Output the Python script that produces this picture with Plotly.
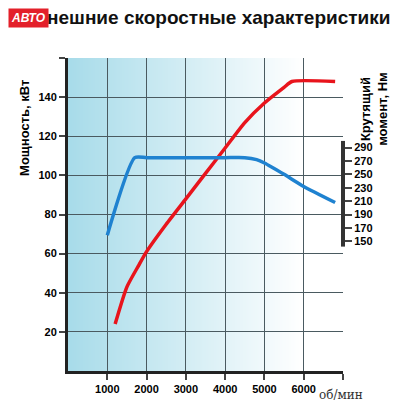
import base64
import struct
import zlib

import plotly.graph_objects as go

# engine speed, rpm
rpm_power = [1200, 1500, 1800, 2000, 2500, 3000, 3500, 4000, 4500, 5000, 5500, 5700, 6800]
power_kw = [24, 43, 54, 61, 75, 88, 101, 114, 127, 137, 145, 148, 148]

rpm_torque = [1000, 1700, 2000, 3000, 4000, 4500, 4800, 5000, 5500, 6000, 6800]
torque_nm = [159, 275, 275, 275, 275, 275, 272, 267, 250, 232, 208]

x_ticks = [1000, 2000, 3000, 4000, 5000, 6000]
y_ticks = [20, 40, 60, 80, 100, 120, 140]
t_ticks = [150, 170, 190, 210, 230, 250, 270, 290]


def gradient_png(c0, c1, w=256):
    # one-row png, light blue -> white
    row = b'\x00'
    for i in range(w):
        t = min(1.0, i / (w - 1) / 0.85)
        row += bytes(int(a + (b - a) * t) for a, b in zip(c0, c1))

    def chunk(tag, data):
        return struct.pack('>I', len(data)) + tag + data + struct.pack('>I', zlib.crc32(tag + data) & 0xffffffff)

    png = b'\x89PNG\r\n\x1a\n'
    png += chunk(b'IHDR', struct.pack('>IIBBBBB', w, 1, 8, 2, 0, 0, 0))
    png += chunk(b'IDAT', zlib.compress(row))
    png += chunk(b'IEND', b'')
    return 'data:image/png;base64,' + base64.b64encode(png).decode()


fig = go.Figure()
fig.add_trace(go.Scatter(x=rpm_power, y=power_kw, mode='lines',
                         line=dict(color='#e8141c', width=3.5, shape='spline', smoothing=0.6),
                         showlegend=False))
fig.add_trace(go.Scatter(x=rpm_torque, y=torque_nm, mode='lines', yaxis='y2',
                         line=dict(color='#1f82d0', width=3.5, shape='spline', smoothing=0.6),
                         showlegend=False))

tick_font = dict(family='Liberation Sans', size=11, color='black', weight='bold')

fig.update_layout(
    width=400, height=415,
    margin=dict(l=60, r=65, t=50, b=52),
    paper_bgcolor='white', plot_bgcolor='rgba(0,0,0,0)',
    images=[dict(source=gradient_png((168, 220, 234), (255, 255, 255)),
                 xref='paper', yref='paper', x=0, y=1, sizex=1, sizey=1,
                 sizing='stretch', layer='below')],
    xaxis=dict(range=[0, 7000], tickvals=x_ticks + [7000], ticktext=[str(v) for v in x_ticks] + [''],
               showgrid=True, gridcolor='#4a5a60', gridwidth=1, zeroline=False,
               showline=True, linecolor='#222', linewidth=3, automargin=False,
               ticks='outside', ticklen=6, tickwidth=2, tickfont=tick_font),
    yaxis=dict(range=[0, 160], tickvals=y_ticks + [160], ticktext=[str(v) for v in y_ticks] + [''],
               showgrid=True, gridcolor='#4a5a60', gridwidth=1, zeroline=False,
               showline=True, linecolor='#222', linewidth=3, automargin=False,
               ticks='outside', ticklen=6, tickwidth=2, tickfont=tick_font),
    yaxis2=dict(overlaying='y', side='right', range=[-44, 424], tickvals=t_ticks,
                showgrid=False, zeroline=False, showline=False, automargin=False,
                ticks='outside', ticklen=8, tickwidth=2, tickfont=tick_font),
    shapes=[
        dict(type='line', xref='paper', yref='y2', x0=1.0, x1=1.0, y0=142, y1=300,
             line=dict(color='#333', width=4)),
    ],
    annotations=[
        dict(text='нешние скоростные характеристики', x=-0.085, y=1.13, xref='paper', yref='paper',
             showarrow=False, xanchor='left', yanchor='middle',
             font=dict(family='Liberation Sans', size=19, color='#111', weight='bold')),
        dict(text='<b><i>АВТО</i></b>', x=-0.218, y=1.16, xref='paper', yref='paper', showarrow=False,
             xanchor='left', yanchor='top', bgcolor='#e3202a', borderpad=2,
             font=dict(family='Liberation Sans', size=12, color='white')),
        dict(text='<b>Мощность, кВт</b>', x=0.0, y=124, xref='paper', yref='y', showarrow=False,
             textangle=-90, xshift=-53, font=dict(family='Liberation Sans', size=13, color='black')),
        dict(text='<b>Крутящий<br>момент, Нм</b>', x=1.0, y=134, xref='paper', yref='y',
             showarrow=False, textangle=-90, xshift=49,
             font=dict(family='Liberation Sans', size=13, color='black')),
        dict(text='об/мин', x=6950, y=0, xref='x', yref='paper', showarrow=False,
             yshift=-33, font=dict(family='DejaVu Serif', size=12, color='#333')),
    ],
)

fig.write_html("out.html")
